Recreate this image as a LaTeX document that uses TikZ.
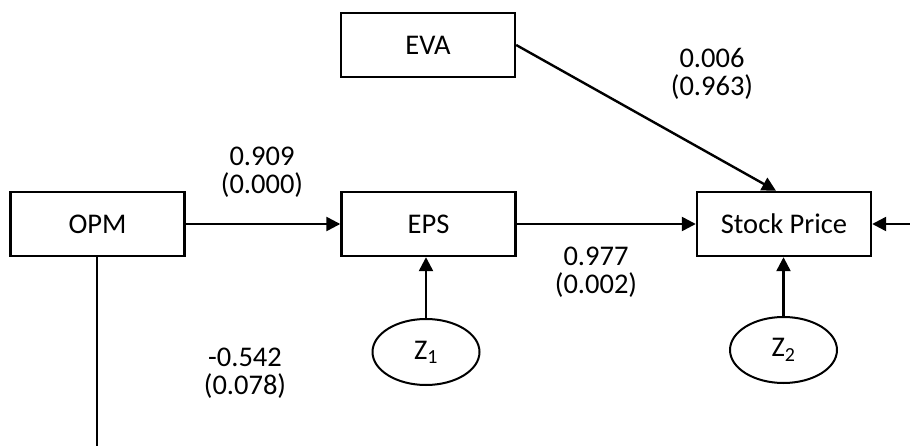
\documentclass[tikz,border=0pt]{standalone}
\usepackage{fontspec}
\setmainfont{Carlito}
\usetikzlibrary{arrows.meta,shapes.geometric,calc}
\begin{document}
\begin{tikzpicture}[x=1pt,y=-1pt,
  every node/.style={font=\fontsize{28.5}{28}\selectfont},
  boxnode/.style={draw,line width=2.4pt,minimum width=174pt,minimum height=64pt,inner sep=0pt},
  errnode/.style={draw,ellipse,line width=2pt,minimum width=107pt,minimum height=66pt,inner sep=0pt},
  lbl/.style={align=center,inner sep=0pt},
  conn/.style={line width=2.4pt,-{Triangle[length=14pt,width=14pt]}},
  plainconn/.style={line width=2.4pt}]
\useasboundingbox (0,0) rectangle (910,446);
\node[boxnode] (opm) at (97.5,224) {OPM};
\node[boxnode] (eva) at (428,45) {EVA};
\node[boxnode] (eps) at (428.5,224) {EPS};
\node[boxnode] (stock) at (784,224) {Stock Price};
\node[errnode] (z1) at (426,352) {Z\textsubscript{1}};
\node[errnode] (z2) at (783.5,350) {Z\textsubscript{2}};
\coordinate (rin) at (910,224);
\coordinate (bot) at (97,446);
\coordinate (stin) at ($(stock.north)+(-8,0)$);
\draw[conn] (opm) -- (eps);
\draw[conn] (eps) -- (stock);
\draw[conn] (eva.east) -- (stin);
\draw[conn] (z1.north) -- (z1.north |- eps.south);
\draw[conn] (z2.north) -- (z2.north |- stock.south);
\draw[conn] (rin) -- (stock.east);
\draw[plainconn] (opm.south -| bot) -- (bot);
\node[lbl] (l1) at (262,172) {0.909\\(0.000)};
\node[lbl] (l2) at (712,74) {0.006\\(0.963)};
\node[lbl] (l3) at (596,272) {0.977\\(0.002)};
\node[lbl] (l4) at (245,373) {-0.542\\(0.078)};
\end{tikzpicture}
\end{document}
